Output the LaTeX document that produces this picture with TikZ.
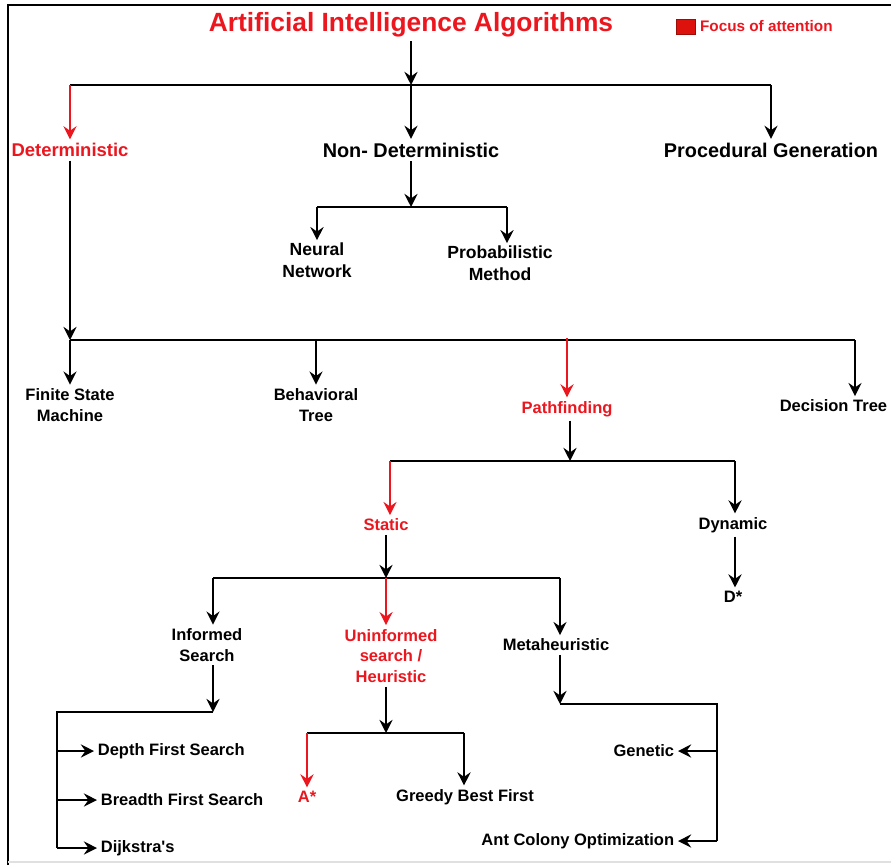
\documentclass[tikz,border=0pt]{standalone}
\usepackage{fontspec}
\setmainfont{Liberation Sans}
\newfontfamily\plainfont{Liberation Sans}
\usepackage{xcolor}
\usepackage{tikz}
\usetikzlibrary{arrows.meta,positioning,calc}
\definecolor{focus}{RGB}{235,22,30}
\definecolor{focusdk}{RGB}{222,18,12}

\begin{document}
\begin{tikzpicture}[x=0.02cm, y=-0.02cm,
  ttl/.style={inner sep=2pt, text=focus, font=\fontsize{15}{18}\selectfont\bfseries},
  mid/.style={align=center, inner sep=2pt, font=\fontsize{11.3}{14}\selectfont\bfseries},
  nn/.style={align=center, inner sep=1pt, font=\fontsize{10}{12.8}\selectfont\bfseries},
  sml/.style={align=center, inner sep=2pt, font=\fontsize{9.4}{11.9}\selectfont\bfseries},
  hot/.style={text=focus},
  keybox/.style={fill=focusdk, draw=focusdk!70!black, line width=0.3pt, minimum width=0.38cm, minimum height=0.3cm, inner sep=0pt},
  arr/.style={-{Stealth[length=7.5pt, width=7.5pt, inset=2.6pt]}, line width=1.1pt},
  redarr/.style={arr, draw=focus},
  line/.style={line width=1.1pt}
]
\useasboundingbox (0,0) rectangle (891,865);
\draw[line width=1.4pt] (8,865) -- (8,5) -- (891,5);
\draw[black!12, line width=0.6pt] (8,862) -- (891,862);

\node[ttl] (title) at (411,25) {Artificial Intelligence Algorithms};
\node[keybox] (key) at (685.5,26.5) {};
\node[inner sep=0pt, text=focus, font=\fontsize{8.7}{10}\selectfont\bfseries, right=0.09cm of key] (keytxt) {Focus of attention};

\node[mid, hot, font=\fontsize{10.5}{13}\selectfont\bfseries] (det) at (70,150) {Deterministic};
\node[mid] (nondet) at (411,150) {Non- Deterministic};
\node[mid] (proc) at (771,150) {Procedural Generation};
\node[nn] (neural) at (317,260) {Neural\\Network};
\node[nn] (prob) at (500,263) {Probabilistic\\Method};

\node[sml] (fsm) at (70,405) {Finite State\\Machine};
\node[sml] (bt) at (316,405) {Behavioral\\Tree};
\node[sml, hot] (path) at (567,409) {Pathfinding};
\node[sml, anchor=east] (dtree) at (891,406) {Decision Tree};

\node[sml, hot] (static) at (386,525) {Static};
\node[sml] (dyn) at (733,525) {Dynamic};
\node[sml] (dstar) at (733,597) {D*};

\node[sml] (inf) at (207,645) {Informed\\Search};
\node[sml, hot] (uninf) at (391,656) {Uninformed\\search /\\Heuristic};
\node[sml] (meta) at (556,645) {Metaheuristic};

\node[sml, anchor=west] (dfs) at (94,751) {Depth First Search};
\node[sml, anchor=west] (bfs) at (97,800) {Breadth First Search};
\node[sml, anchor=west] (dijk) at (97,848) {Dijkstra{\plainfont '}s};
\node[sml, hot] (astar) at (307,797) {A*};
\node[sml] (greedy) at (465,797) {Greedy Best First};
\node[sml, anchor=east] (gen) at (678,751) {Genetic};
\node[sml, anchor=east] (aco) at (678,841) {Ant Colony Optimization};

\coordinate (c0) at (411,85);
\draw[arr] (title) -- (c0);
\draw[line] (det |- c0) -- (proc |- c0);
\draw[redarr] (det |- c0) -- (det);
\draw[arr] (c0) -- (nondet);
\draw[arr] (proc |- c0) -- (proc);

\coordinate (c1) at (411,207); \coordinate (c1a) at (317,207); \coordinate (c1b) at (507,207);
\draw[arr] (nondet) -- (c1);
\draw[line] (c1a) -- (c1b);
\draw[arr] (c1a) -- (c1a |- neural.north);
\draw[arr] (c1b) -- (c1b |- prob.north);

\coordinate (c2) at (70,340); \coordinate (c2b) at (316,340); \coordinate (c2c) at (567,338); \coordinate (c2d) at (855,340);
\draw[arr] (det) -- (c2);
\draw[line] (c2) -- (c2d);
\draw[arr] (c2) -- (fsm);
\draw[arr] (c2b) -- (bt);
\draw[redarr] (c2c) -- (path);
\draw[arr] (c2d) -- (c2d |- dtree.north);

\coordinate (c3) at (570,461); \coordinate (c3a) at (390,461); \coordinate (c3b) at (735,461);
\draw[arr] (path.south -| c3) -- (c3);
\draw[line] (c3a) -- (c3b);
\draw[redarr] (c3a) -- (c3a |- static.north);
\draw[arr] (c3b) -- (c3b |- dyn.north);
\draw[arr] (dyn.south -| c3b) -- (c3b |- dstar.north);

\coordinate (c4) at (386,578); \coordinate (c4a) at (213,578); \coordinate (c4b) at (560,578);
\draw[arr] (static) -- (c4);
\draw[line] (c4a) -- (c4b);
\draw[arr] (c4a) -- (c4a |- inf.north);
\draw[redarr] (c4) -- (c4 |- uninf.north);
\draw[arr] (c4b) -- (c4b |- meta.north);

\coordinate (c5) at (213,712); \coordinate (c5a) at (57,712); \coordinate (c5b) at (57,848);
\draw[arr] (inf.south -| c5) -- (c5);
\draw[line] (c5) -- (c5a) -- (c5b);
\draw[arr] (c5a |- dfs) -- (dfs);
\draw[arr] (c5a |- bfs) -- (bfs);
\draw[arr] (c5b) -- (dijk);

\coordinate (c6) at (386,733); \coordinate (c6a) at (307,733); \coordinate (c6b) at (464,733);
\draw[arr] (uninf.south -| c6) -- (c6);
\draw[line] (c6a) -- (c6b);
\draw[redarr] (c6a) -- (c6a |- astar.north);
\draw[arr] (c6b) -- (c6b |- greedy.north);

\coordinate (c7) at (560,704); \coordinate (c7a) at (717,704); \coordinate (c7b) at (717,841);
\draw[arr] (meta.south -| c7) -- (c7);
\draw[line] (c7) -- (c7a) -- (c7b);
\draw[arr] (c7a |- gen) -- (gen);
\draw[arr] (c7b) -- (aco);
\end{tikzpicture}
\end{document}
